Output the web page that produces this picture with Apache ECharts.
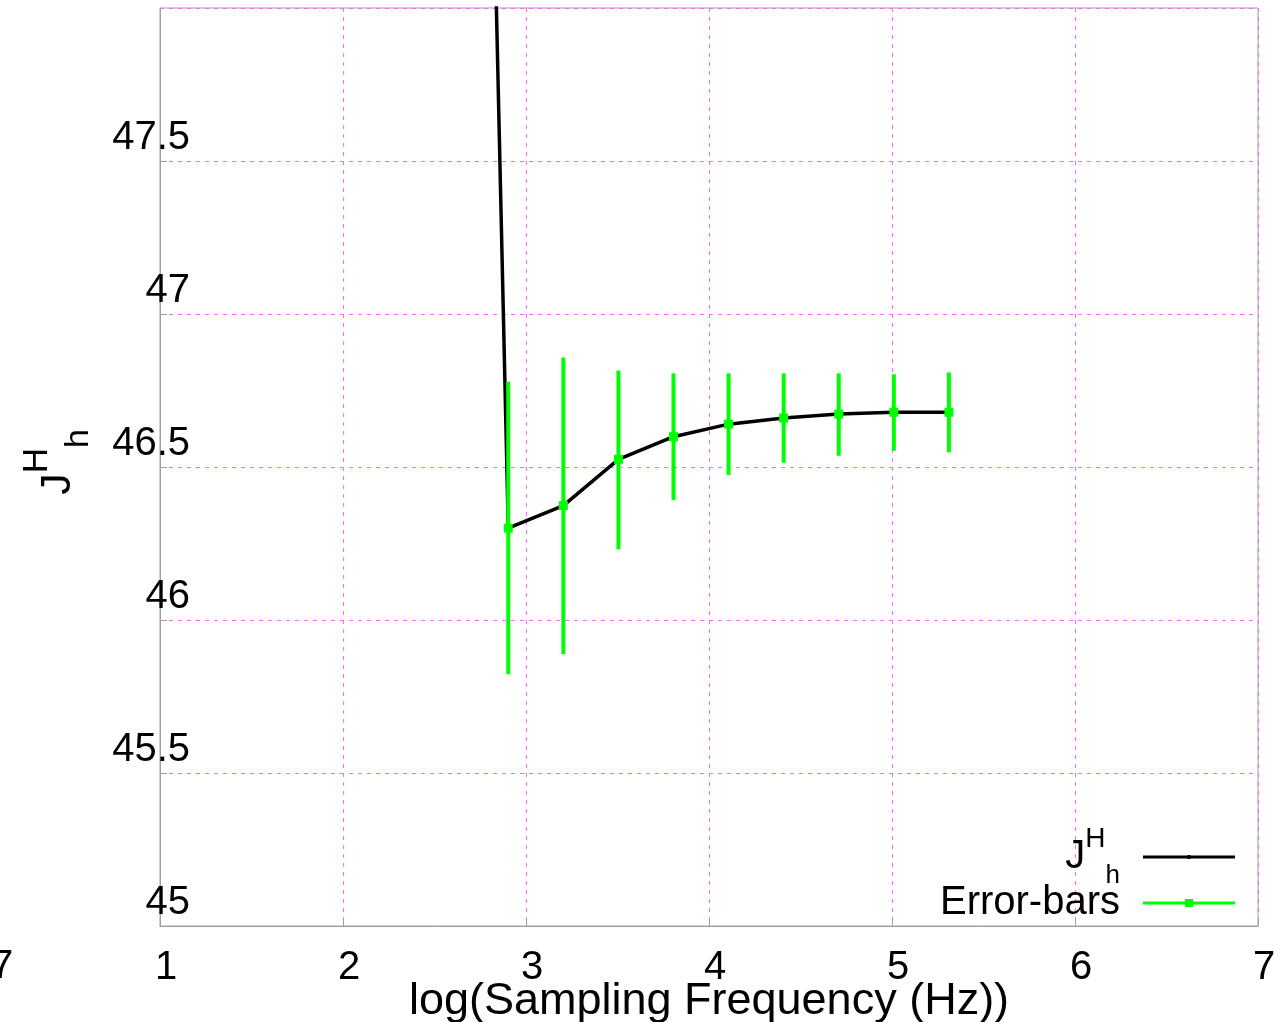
<!DOCTYPE html>
<html><head><meta charset="utf-8">
<script src="https://cdn.jsdelivr.net/npm/echarts@6/dist/echarts.min.js"></script>
<style>html,body{margin:0;padding:0;background:#fff}#c{width:1284px;height:1022px}</style>
</head><body><div id="c"></div>
<script>
// log10 of sampling frequency (Hz)
const logFreq = [2.602, 2.903, 3.204, 3.505, 3.806, 4.107, 4.408, 4.709, 5.010, 5.311];
const jhValues = [54.2, 46.300, 46.374, 46.525, 46.599, 46.640, 46.660, 46.673, 46.679, 46.679];
// error bars
const errX = [2.903, 3.204, 3.505, 3.806, 4.107, 4.408, 4.709, 5.010, 5.311];
const errMean = [46.300, 46.374, 46.525, 46.599, 46.640, 46.660, 46.673, 46.679, 46.679];
const errLow = [45.823, 45.889, 46.231, 46.392, 46.474, 46.514, 46.537, 46.553, 46.548];
const errHigh = [46.779, 46.858, 46.815, 46.806, 46.806, 46.806, 46.806, 46.803, 46.809];
const xTickLabels = ['1', '2', '3', '4', '5', '6', '7'];
const yTickLabels = ['45', '45.5', '46', '46.5', '47', '47.5'];
const xTitle = 'log(Sampling Frequency (Hz))';

const FONT = 'Liberation Sans, Arial, sans-serif';
const GRID = '#ff66ff';
const lineData = logFreq.map((x, i) => [x, jhValues[i]]);
const errData = errX.map((x, i) => [x, errMean[i], errLow[i], errHigh[i]]);
const richTitle = {
  j: { fontSize: 43, lineHeight: 76, verticalAlign: 'middle', fontFamily: FONT, color: '#000' },
  sup: { fontSize: 35, lineHeight: 36, verticalAlign: 'top', fontFamily: FONT, color: '#000' },
  sub: { fontSize: 34, lineHeight: 42, verticalAlign: 'bottom', fontFamily: FONT, color: '#000' }
};
const richLegend = {
  j: { fontSize: 40, lineHeight: 64, verticalAlign: 'middle', fontFamily: FONT, color: '#000' },
  sup: { fontSize: 28, lineHeight: 32, verticalAlign: 'top', fontFamily: FONT, color: '#000' },
  sub: { fontSize: 26, lineHeight: 32, verticalAlign: 'bottom', fontFamily: FONT, color: '#000' }
};

const chart = echarts.init(document.getElementById('c'), null, { renderer: 'canvas' });
chart.setOption({
  animation: false,
  backgroundColor: '#fff',
  textStyle: { fontFamily: FONT },
  grid: {
    left: 160, right: 26, top: 8, bottom: 96, show: true, borderColor: '#a0a0a0', borderWidth: 1,
    outerBoundsMode: 'none', containLabel: false
  },
  xAxis: {
    type: 'value', min: 1, max: 7, interval: 1,
    name: xTitle, nameLocation: 'middle', nameGap: 53, nameMoveOverlap: false,
    nameTextStyle: { fontSize: 45, color: '#000', fontFamily: FONT },
    axisLine: { show: true, lineStyle: { color: '#a0a0a0', width: 1 } },
    axisTick: { show: true, inside: true, length: 7, lineStyle: { color: '#a0a0a0' } },
    axisLabel: {
      fontSize: 40, color: '#000', margin: 22, padding: [0, 0, 0, 12], fontFamily: FONT,
      formatter: v => xTickLabels[Math.round(v) - 1] || ''
    },
    splitLine: { show: true, lineStyle: { color: GRID, type: [4, 5], width: 1 } }
  },
  yAxis: {
    type: 'value', min: 45, max: 48, interval: 0.5,
    name: '{j|J}{sup|H}{sub|h}', nameLocation: 'middle', nameRotate: 90, nameGap: 64, nameMoveOverlap: false,
    nameTextStyle: { rich: richTitle, padding: [0, 0, 0, 10] },
    axisLine: { show: true, lineStyle: { color: '#a0a0a0', width: 1 } },
    axisTick: { show: true, inside: true, length: 7, lineStyle: { color: '#a0a0a0' } },
    axisLabel: {
      fontSize: 40, color: '#000', margin: -30, verticalAlign: 'bottom', lineHeight: 46, fontFamily: FONT,
      showMaxLabel: false,
      formatter: v => { const i = Math.round((v - 45) * 2); return yTickLabels[i] || ''; }
    },
    splitLine: { show: true, lineStyle: { color: GRID, type: [4, 5], width: 1 } }
  },
  legend: {
    orient: 'vertical', align: 'right', right: 44, top: 820, itemGap: -6,
    itemWidth: 92, itemHeight: 8,
    itemStyle: { borderWidth: 0 },
    textStyle: { fontSize: 40, color: '#000', fontFamily: FONT, padding: [0, 18, 0, 0], rich: richLegend },
    formatter: name => name === 'JHh' ? '{j|J}{sup|H}{sub|h}' : name,
    data: [
      { name: 'JHh', icon: 'path://M0,2.5L44.5,2.5L44.5,2L47.5,2L47.5,2.5L92,2.5L92,5.5L47.5,5.5L47.5,6L44.5,6L44.5,5.5L0,5.5Z' },
      { name: 'Error-bars', icon: 'path://M0,2.5L42,2.5L42,0L50,0L50,2.5L92,2.5L92,5.5L50,5.5L50,8L42,8L42,5.5L0,5.5Z' }
    ]
  },
  graphic: [
    { type: 'text', left: -9, top: 947, style: { text: '7', fontSize: 40, fill: '#000', fontFamily: FONT } }
  ],
  series: [
    {
      name: 'JHh', type: 'line', data: lineData, color: '#000', z: 2,
      showSymbol: false, clip: true,
      lineStyle: { color: '#000', width: 3.5 }
    },
    {
      name: 'Error-bars', type: 'custom', data: errData, color: '#00ff00', z: 3,
      itemStyle: { color: '#00ff00' },
      encode: { x: 0, y: [1, 2, 3] },
      renderItem: function (params, api) {
        const x = api.value(0);
        const c = api.coord([x, api.value(1)]);
        const lo = api.coord([x, api.value(2)]);
        const hi = api.coord([x, api.value(3)]);
        return {
          type: 'group', children: [
            { type: 'line', shape: { x1: lo[0], y1: lo[1], x2: hi[0], y2: hi[1] }, style: { stroke: '#00ff00', lineWidth: 4 } },
            { type: 'rect', shape: { x: c[0] - 4.5, y: c[1] - 4.5, width: 9, height: 9 }, style: { fill: '#00ff00' } }
          ]
        };
      }
    }
  ]
});
</script></body></html>
